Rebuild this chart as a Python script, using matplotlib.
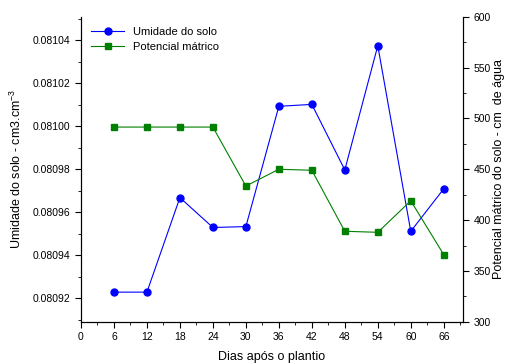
import matplotlib
matplotlib.use("Agg")
import matplotlib.pyplot as plt
from matplotlib.ticker import MultipleLocator, FormatStrFormatter

plt.rcParams['font.family'] = ['Liberation Sans', 'DejaVu Sans']

dias = [6, 12, 18, 24, 30, 36, 42, 48, 54, 60, 66]
umidade = [0.0809228, 0.0809228, 0.0809668, 0.0809529, 0.0809533, 0.0810093,
           0.0810102, 0.0809797, 0.0810375, 0.0809511, 0.0809709]
potencial = [491.5, 491.5, 491.5, 491.5, 433.5, 450, 449, 389, 388, 419, 366]

fig = plt.figure(figsize=(5.06, 3.64), dpi=100)
ax = fig.add_axes([0.160, 0.116, 0.755, 0.838])
ax2 = ax.twinx()

l1, = ax.plot(dias, umidade, color='#0000ff', marker='o', markersize=5, lw=0.8,
              label='Umidade do solo')
l2, = ax2.plot(dias, potencial, color='#008000', marker='s', markersize=4.8, lw=0.8,
               label='Potencial mátrico')

ax.set_xlim(0, 69.5)
ax.set_ylim(0.080909, 0.081051)
ax2.set_ylim(300, 600)

ax.xaxis.set_major_locator(MultipleLocator(6))
ax.xaxis.set_minor_locator(MultipleLocator(3))
ax.yaxis.set_major_locator(MultipleLocator(0.00002))
ax.yaxis.set_minor_locator(MultipleLocator(0.00001))
ax.yaxis.set_major_formatter(FormatStrFormatter('%.5f'))
ax2.yaxis.set_major_locator(MultipleLocator(50))
ax2.yaxis.set_minor_locator(MultipleLocator(25))

for a in (ax, ax2):
    a.spines['top'].set_visible(False)
    a.tick_params(which='major', direction='out', length=4, labelsize=7.5)
    a.tick_params(which='minor', direction='out', length=2.5)

ax.set_xlabel('Dias após o plantio', fontsize=9, labelpad=6)
ax.set_ylabel(r'Umidade do solo - cm3.cm$^{\mathregular{-3}}$', fontsize=9, labelpad=6)
ax2.set_ylabel('Potencial mátrico do solo - cm  de água', fontsize=9, labelpad=2)

ax.legend(handles=[l1, l2], loc='upper left', frameon=False, fontsize=8,
          handlelength=3, bbox_to_anchor=(0.0, 1.0))

fig.savefig('out.png', dpi=100)
